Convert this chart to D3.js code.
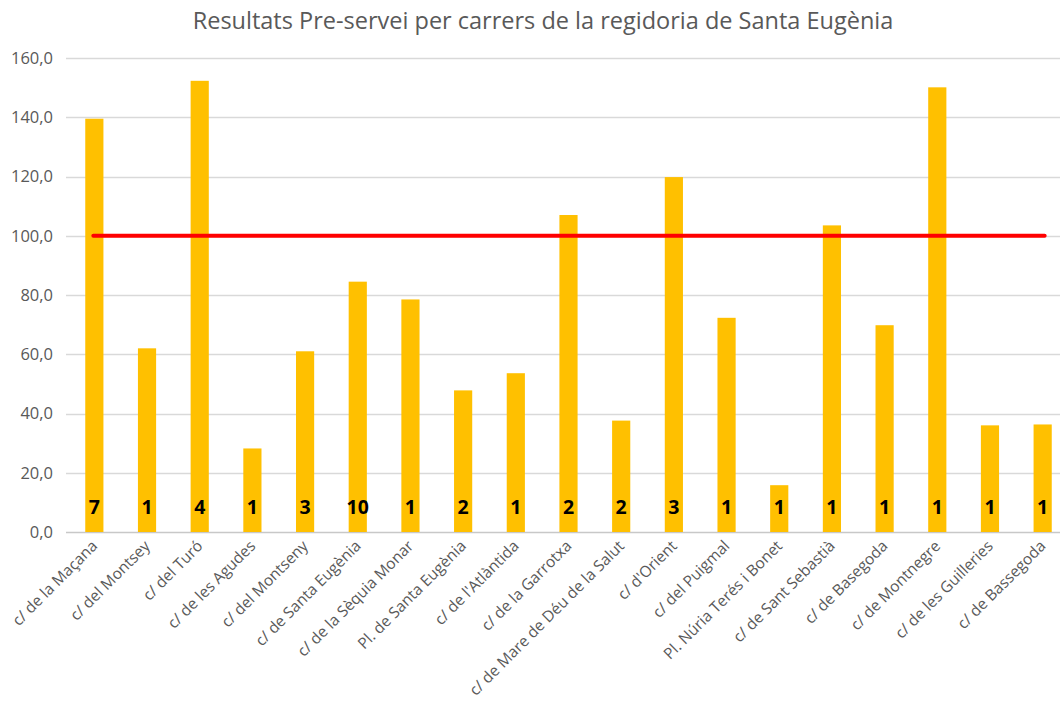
<!DOCTYPE html>
<html>
<head>
<meta charset="utf-8">
<script src="https://cdn.jsdelivr.net/npm/d3@7"></script>
<style>
  body { margin: 0; background: #fff; }
  svg { font-family: "Open Sans", sans-serif; }
</style>
</head>
<body>
<svg id="chart"></svg>
<script>
const width = 1060
const height = 704
const marginTop = 58
const marginLeft = 68
const marginRight = -9
const marginBottom = 172

const streets = ["c/ de la Maçana", "c/ del Montsey", "c/ del Turó", "c/ de les Agudes", "c/ del Montseny",
    "c/ de Santa Eugènia", "c/ de la Sèquia Monar", "Pl. de Santa Eugènia", "c/ de l'Atlàntida", "c/ de la Garrotxa",
    "c/ de Mare de Déu de la Salut", "c/ d'Orient", "c/ del Puigmal", "Pl. Núria Terés i Bonet", "c/ de Sant Sebastià",
    "c/ de Basegoda", "c/ de Montnegre", "c/ de les Guilleries", "c/ de Bassegoda"]
const results = [139.5, 62.0, 152.3, 28.2, 61.0, 84.5, 78.5, 47.8, 53.6, 107.0, 37.6, 119.8, 72.3, 15.8, 103.5, 69.8, 150.1, 36.0, 36.3]
const counts = [7, 1, 4, 1, 3, 10, 1, 2, 1, 2, 2, 3, 1, 1, 1, 1, 1, 1, 1]
const yTicks = [0, 20, 40, 60, 80, 100, 120, 140, 160]
const target = 100

const data = streets.map((s, i) => ({ street: s, value: results[i], count: counts[i] }))

const svg = d3.select("#chart")
    .attr("width", width)
    .attr("height", height)

const xScale = d3.scaleBand()
    .domain(streets)
    .range([marginLeft, width - marginRight])

const yScale = d3.scaleLinear()
    .domain([0, 160])
    .range([height - marginBottom, marginTop])

const barWidth = xScale.bandwidth() * 0.345

// gridlines
svg.append("g")
    .selectAll("line")
    .data(yTicks)
    .join("line")
    .attr("x1", 66)
    .attr("x2", 1060)
    .attr("y1", d => Math.round(yScale(d)) + 0.5)
    .attr("y2", d => Math.round(yScale(d)) + 0.5)
    .style("stroke", d => d === 0 ? "#c8c8c8" : "#d9d9d9")
    .style("stroke-width", 1.3)

// y labels
const yAxis = d3.axisLeft(yScale)
    .tickValues(yTicks)
    .tickFormat(d => d3.format(".1f")(d).replace(".", ","))
    .tickSize(0)
    .tickPadding(15)

svg.append("g")
    .attr("transform", `translate(${marginLeft}, 0)`)
    .call(yAxis)
    .call(g => g.select(".domain").remove())
    .call(g => g.selectAll("text")
        .style("font-family", "Open Sans, sans-serif")
        .style("font-size", "16.5px")
        .style("fill", "#595959"))

// bars
svg.append("g")
    .selectAll("rect")
    .data(data)
    .join("rect")
    .attr("x", d => xScale(d.street) + (xScale.bandwidth() - barWidth) / 2)
    .attr("y", d => yScale(d.value))
    .attr("width", barWidth)
    .attr("height", d => yScale(0) - yScale(d.value))
    .style("fill", "#FFC000")

// count labels
svg.append("g")
    .selectAll("text")
    .data(data)
    .join("text")
    .attr("x", d => xScale(d.street) + xScale.bandwidth() / 2)
    .attr("y", yScale(0) - 18)
    .attr("text-anchor", "middle")
    .style("font-size", "19.5px")
    .style("font-weight", "bold")
    .style("fill", "#000")
    .text(d => d.count)

// target line
svg.append("line")
    .attr("x1", xScale(streets[0]) + xScale.bandwidth() / 2 - 1)
    .attr("x2", xScale(streets[streets.length - 1]) + xScale.bandwidth() / 2 + 2)
    .attr("y1", yScale(target))
    .attr("y2", yScale(target))
    .style("stroke", "#FF0000")
    .style("stroke-width", 4)
    .style("stroke-linecap", "round")

// x labels
svg.append("g")
    .selectAll("text")
    .data(streets)
    .join("text")
    .attr("transform", d => `translate(${xScale(d) + xScale.bandwidth() / 2 + 4}, ${yScale(0) + 15}) rotate(-45)`)
    .attr("text-anchor", "end")
    .style("font-size", "15.5px")
    .style("fill", "#595959")
    .text(d => d)

// title
svg.append("text")
    .attr("x", 543)
    .attr("y", 29)
    .attr("text-anchor", "middle")
    .style("font-size", "23.5px")
    .style("fill", "#595959")
    .text("Resultats Pre-servei per carrers de la regidoria de Santa Eugènia")
</script>
</body>
</html>
